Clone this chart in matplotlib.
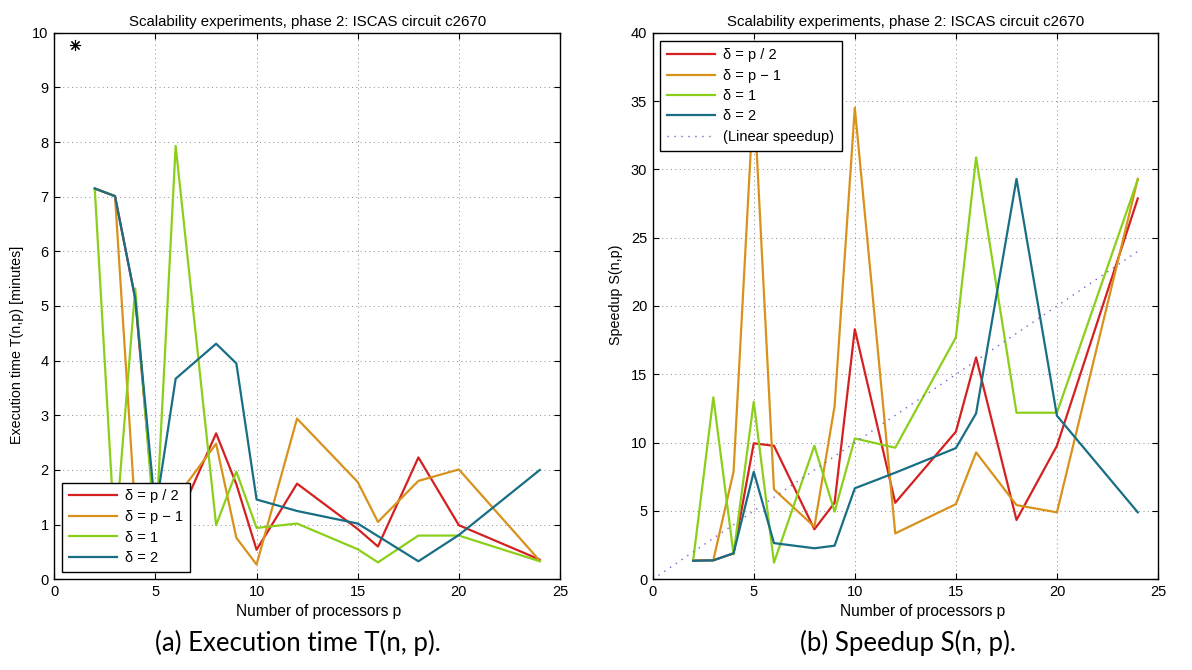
import matplotlib
matplotlib.use("Agg")
import matplotlib.pyplot as plt

# ---------------- data ----------------
procs = [2, 3, 4, 5, 6, 8, 9, 10, 12, 15, 16, 18, 20, 24]
series_labels = ["δ = p / 2", "δ = p − 1", "δ = 1", "δ = 2"]
series_colors = ["#d42020", "#d8921c", "#8ccf1a", "#186e84"]

time_half = [7.15, 7.01, 5.14, 0.98, 1.00, 2.67, 1.74, 0.54, 1.75, 0.92, 0.60, 2.23, 0.99, 0.36]
time_pm1 = [7.15, 7.01, 1.24, 0.28, 1.48, 2.48, 0.76, 0.27, 2.94, 1.78, 1.05, 1.80, 2.01, 0.34]
time_one = [7.15, 0.73, 5.32, 0.75, 7.93, 0.99, 1.97, 0.94, 1.02, 0.55, 0.31, 0.80, 0.80, 0.33]
time_two = [7.15, 7.01, 5.14, 1.24, 3.67, 4.31, 3.95, 1.46, 1.25, 1.02, 0.79, 0.33, 0.81, 2.00]

speed_half = [1.36, 1.39, 1.90, 9.95, 9.77, 3.66, 5.60, 18.30, 5.60, 10.80, 16.24, 4.34, 9.77, 27.87]
speed_pm1 = [1.36, 1.40, 7.87, 35.50, 6.58, 3.85, 12.68, 34.50, 3.36, 5.50, 9.29, 5.43, 4.90, 29.30]
speed_one = [1.36, 13.31, 1.83, 12.99, 1.22, 9.77, 4.95, 10.31, 9.63, 17.70, 30.87, 12.19, 12.19, 29.26]
speed_two = [1.36, 1.39, 1.90, 7.87, 2.65, 2.27, 2.46, 6.66, 7.80, 9.60, 12.14, 29.30, 11.97, 4.90]

serial_p = [1]
serial_time = [9.77]

linear_p = [0, 24]
linear_s = [0, 24]

title_text = "Scalability experiments, phase 2: ISCAS circuit c2670"
xlabel_text = "Number of processors p"
ylabel_left = "Execution time T(n,p) [minutes]"
ylabel_right = "Speedup S(n,p)"
caption_left = "(a) Execution time T(n, p)."
caption_right = "(b) Speedup S(n, p)."

# ---------------- figure ----------------
plt.rcParams["font.family"] = ["Liberation Sans", "DejaVu Sans"]
fig = plt.figure(figsize=(11.92, 6.70), dpi=100)

W, H = 1192.0, 670.0
axL = fig.add_axes([54.3 / W, (H - 579.3) / H, 505.7 / W, 546.6 / H])
axR = fig.add_axes([652.7 / W, (H - 579.3) / H, 505.3 / W, 546.6 / H])


def style(ax, xlab_x):
    ax.grid(True, linestyle=(0, (1, 3.5)), color="#8a8a8a", linewidth=0.7)
    ax.tick_params(direction="in", top=True, right=True, length=4.5,
                   width=0.8, labelsize=10.5, pad=4)
    for s in ax.spines.values():
        s.set_linewidth(1.0)
        s.set_color("black")
    ax.set_xlim(0, 25)
    ax.set_xticks([0, 5, 10, 15, 20, 25])
    ax.set_title(title_text, fontsize=10.8, pad=5)
    ax.set_xlabel(xlabel_text, fontsize=11.2)
    ax.xaxis.set_label_coords(xlab_x, -0.046)


lw = 1.6
times = [time_half, time_pm1, time_one, time_two]
speeds = [speed_half, speed_pm1, speed_one, speed_two]

for vals, lab, col in zip(times, series_labels, series_colors):
    axL.plot(procs, vals, color=col, lw=lw, label=lab)
axL.plot(serial_p, serial_time, marker=(8, 2, 0), color="black", linestyle="none",
         markersize=8, markeredgewidth=0.8)
style(axL, 0.523)
axL.set_ylim(0, 10)
axL.set_yticks(range(0, 11))
axL.set_ylabel(ylabel_left, fontsize=10.3)
axL.yaxis.set_label_coords(-0.060, 0.4287)
legL = axL.legend(loc="lower left", bbox_to_anchor=(0.016, 0.014), borderaxespad=0,
                  fontsize=10.5, handlelength=3.3, labelspacing=0.45,
                  fancybox=False, framealpha=1, edgecolor="black",
                  borderpad=0.45, handletextpad=0.55)
legL.get_frame().set_linewidth(1.0)

for vals, lab, col in zip(speeds, series_labels, series_colors):
    axR.plot(procs, vals, color=col, lw=lw, label=lab)
axR.plot(linear_p, linear_s, color="#7b5fcf", linestyle=(0, (1, 4)), lw=1.0,
         label="(Linear speedup)")
style(axR, 0.535)
axR.set_ylim(0, 40)
axR.set_yticks(range(0, 41, 5))
axR.set_ylabel(ylabel_right, fontsize=10.3)
axR.yaxis.set_label_coords(-0.058, 0.52)
legR = axR.legend(loc="upper left", bbox_to_anchor=(0.0144, 0.985), borderaxespad=0,
                  fontsize=10.5, handlelength=3.3, labelspacing=0.44,
                  fancybox=False, framealpha=1, edgecolor="black",
                  borderpad=0.5, handletextpad=0.55)
legR.get_frame().set_linewidth(1.0)

fig.text(298 / W, (H - 643) / H, caption_left, ha="center", va="center",
         fontsize=18.5, family=["Lato", "DejaVu Sans"])
fig.text(908 / W, (H - 643) / H, caption_right, ha="center", va="center",
         fontsize=18.5, family=["Lato", "DejaVu Sans"])

fig.savefig("out.png", dpi=100)
